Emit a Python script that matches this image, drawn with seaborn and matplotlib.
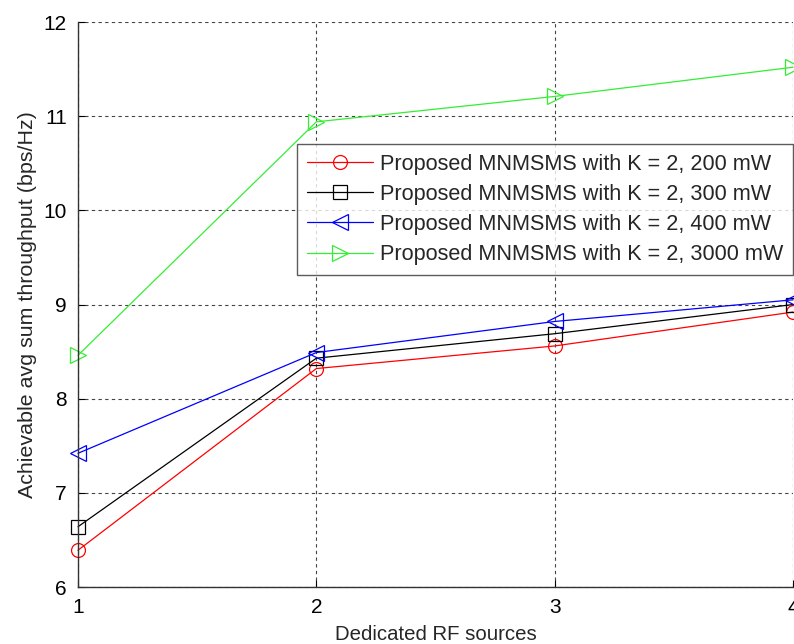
import matplotlib
matplotlib.use("Agg")
import matplotlib.pyplot as plt
import seaborn as sns
import pandas as pd

# Dedicated RF sources on the x axis
rf_sources = [1, 2, 3, 4]

# Achievable average sum throughput (bps/Hz) per transmit power
thr_200mw = [6.39, 8.32, 8.56, 8.92]
thr_300mw = [6.64, 8.43, 8.69, 9.00]
thr_400mw = [7.42, 8.49, 8.82, 9.05]
thr_3000mw = [8.46, 10.94, 11.21, 11.52]

labels = [
    "Proposed MNMSMS with K = 2, 200 mW",
    "Proposed MNMSMS with K = 2, 300 mW",
    "Proposed MNMSMS with K = 2, 400 mW",
    "Proposed MNMSMS with K = 2, 3000 mW",
]
series = [thr_200mw, thr_300mw, thr_400mw, thr_3000mw]
colors = ["#ff0000", "#000000", "#0000ff", "#33ee33"]
markers = ["o", "s", "<", ">"]
msizes = [10, 10, 11, 11]

sns.set_theme(style="white")
plt.rcParams["font.family"] = ["Liberation Sans", "DejaVu Sans"]

fig = plt.figure(figsize=(7.94, 6.44), dpi=100)
ax = fig.add_axes([0.0982, 0.0885, 0.9007, 0.8773])

frames = []
for lab, vals in zip(labels, series):
    frames.append(pd.DataFrame({"rf": rf_sources, "thr": vals, "scheme": lab}))
df = pd.concat(frames, ignore_index=True)

for lab, col, mk, ms in zip(labels, colors, markers, msizes):
    sub = df[df["scheme"] == lab]
    sns.lineplot(data=sub, x="rf", y="thr", ax=ax, color=col, marker=mk,
                 markersize=ms, markerfacecolor="none", markeredgecolor=col,
                 markeredgewidth=0.9, linewidth=0.9, label=lab, clip_on=False)

ax.set_xlim(1, 4)
ax.set_ylim(6, 12)
ax.set_xticks([1, 2, 3, 4])
ax.set_yticks([6, 7, 8, 9, 10, 11, 12])
ax.tick_params(axis="both", direction="in", length=5, width=0.8,
               labelsize=15, colors="black", pad=8)
ax.tick_params(axis="both", which="both", bottom=True, left=True)
ax.grid(True, linestyle=(0, (3, 3)), color="#444444", linewidth=0.8)
for side in ["top", "right"]:
    ax.spines[side].set_visible(False)
for side in ["left", "bottom"]:
    ax.spines[side].set_color("#333333")
    ax.spines[side].set_linewidth(1.0)

ax.set_xlabel("Dedicated RF sources", fontsize=14.7, labelpad=6)
ax.set_ylabel("Achievable avg sum throughput (bps/Hz)", fontsize=15.4, labelpad=5)

leg = ax.legend(loc="upper right", bbox_to_anchor=(1.0, 0.784), fontsize=15.6,
                frameon=True, fancybox=False, shadow=False, borderpad=0.45,
                labelspacing=0.42, handlelength=3.05, handletextpad=0.33,
                borderaxespad=0)
leg.get_frame().set_edgecolor("#333333")
leg.get_frame().set_linewidth(1.0)

fig.savefig("out.png", dpi=100)
